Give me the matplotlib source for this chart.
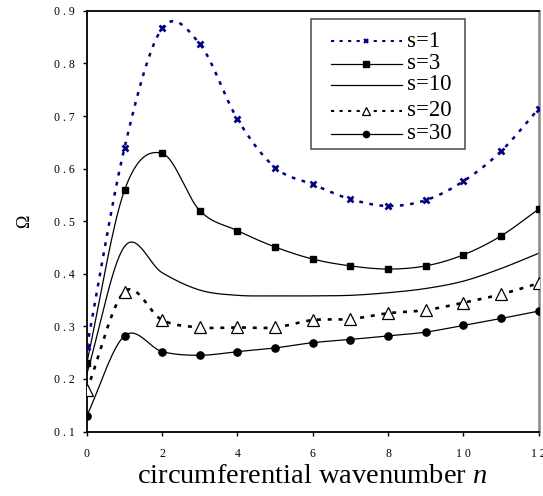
import numpy as np
import matplotlib
matplotlib.use("Agg")
import matplotlib.pyplot as plt
from matplotlib.patches import Rectangle
from matplotlib.lines import Line2D

n = [0, 1, 2, 3, 4, 5, 6, 7, 8, 9, 10, 11, 12]
s1 = [0.261, 0.640, 0.867, 0.837, 0.694, 0.602, 0.570, 0.542, 0.529, 0.540, 0.576, 0.633, 0.714]
s3 = [0.231, 0.559, 0.629, 0.520, 0.482, 0.451, 0.428, 0.415, 0.409, 0.415, 0.436, 0.472, 0.523]
s10 = [0.210, 0.452, 0.402, 0.369, 0.359, 0.358, 0.358, 0.359, 0.364, 0.372, 0.386, 0.410, 0.439]
s20 = [0.179, 0.366, 0.312, 0.298, 0.298, 0.298, 0.312, 0.314, 0.325, 0.331, 0.345, 0.361, 0.382]
s30 = [0.130, 0.282, 0.252, 0.245, 0.252, 0.259, 0.269, 0.275, 0.282, 0.289, 0.302, 0.315, 0.329]
labels = ["s=1", "s=3", "s=10", "s=20", "s=30"]
yticks = [0.1, 0.2, 0.3, 0.4, 0.5, 0.6, 0.7, 0.8, 0.9]
ytick_labels = ["0 . 1", "0 . 2", "0 . 3", "0 . 4", "0 . 5", "0 . 6", "0 . 7", "0 . 8", "0 . 9"]
xticks = [0, 2, 4, 6, 8, 10, 12]
xtick_labels = ["0", "2", "4", "6", "8", "1 0", "1 2"]


def smooth(x, y, k=20):
    """Catmull-Rom smoothing of the polyline (like a spreadsheet smoothed line)."""
    x = np.asarray(x, float)
    y = np.asarray(y, float)
    P = np.column_stack([x, y])
    P = np.vstack([2 * P[0] - P[1], P, 2 * P[-1] - P[-2]])
    out = []
    t = np.linspace(0, 1, k, endpoint=False)[:, None]
    for i in range(1, len(P) - 2):
        p0, p1, p2, p3 = P[i - 1], P[i], P[i + 1], P[i + 2]
        m1 = (p2 - p0) / 2
        m2 = (p3 - p1) / 2
        h00 = 2 * t**3 - 3 * t**2 + 1
        h10 = t**3 - 2 * t**2 + t
        h01 = -2 * t**3 + 3 * t**2
        h11 = t**3 - t**2
        out.append(h00 * p1 + h10 * m1 + h01 * p2 + h11 * m2)
    out.append(P[-2][None, :])
    C = np.vstack(out)
    return C[:, 0], C[:, 1]


plt.rcParams['font.family'] = ['Liberation Serif', 'DejaVu Serif']
plt.rcParams['mathtext.fontset'] = 'custom'
plt.rcParams['mathtext.rm'] = 'Liberation Serif'
plt.rcParams['mathtext.it'] = 'Liberation Serif:italic'

fig = plt.figure(figsize=(5.43, 4.96), dpi=100)
ax = fig.add_axes([0.160, 0.130, 0.832, 0.848])

navy = "#000080"
dot = (0, (1.5, 2.6))

styles = [
    dict(color=navy, ls=dot, lw=1.8, marker="x", ms=4.8, mew=1.9, mfc=navy, mec=navy),
    dict(color="black", ls="-", lw=0.9, marker="s", ms=4.6, mfc="black", mec="black", mew=1.0),
    dict(color="black", ls="-", lw=0.9, marker=None),
    dict(color="black", ls=dot, lw=1.9, marker="^", ms=8, mfc="white", mec="black", mew=0.9),
    dict(color="black", ls="-", lw=0.9, marker="o", ms=5.2, mfc="black", mec="black", mew=1.0),
]

for ys, st in zip([s1, s3, s10, s20, s30], styles):
    xs, yy = smooth(n, ys)
    ax.plot(xs, yy, color=st["color"], ls=st["ls"], lw=st["lw"], zorder=2)
    if st["marker"] is not None:
        ax.plot(n, ys, ls="none", marker=st["marker"], ms=st["ms"], mfc=st["mfc"],
                mec=st["mec"], mew=st["mew"], zorder=3)

ax.set_xlim(0, 12)
ax.set_ylim(0.1, 0.9)
ax.set_xticks(xticks)
ax.set_xticklabels(xtick_labels, fontsize=8.5)
ax.set_yticks(yticks)
ax.set_yticklabels(ytick_labels, fontsize=8.5)
ax.tick_params(direction="out", length=3, width=1.0)
ax.tick_params(axis="x", pad=9)
ax.tick_params(axis="y", pad=6)

for sp in ["left", "bottom", "top"]:
    ax.spines[sp].set_linewidth(1.3)
ax.spines["right"].set_color("#888888")
ax.spines["right"].set_linewidth(1.8)

ax.set_xlabel("circumferential wavenumber $\\mathit{n}$", fontsize=20.5, labelpad=3)
ax.set_ylabel("Ω", fontsize=13, labelpad=15)

# legend box drawn manually in axes fraction
bx0, bx1, by0, by1 = 0.497, 0.837, 0.671, 0.980
ax.add_patch(Rectangle((bx0, by0), bx1 - bx0, by1 - by0, transform=ax.transAxes,
                       fill=True, facecolor="white", edgecolor="#555555", lw=1.2, zorder=5))
leg_styles = [
    dict(color=navy, ls=dot, lw=1.5, marker="x", ms=3.5, mew=1.5, mfc=navy, mec=navy),
    dict(color="black", ls="-", lw=0.9, marker="s", ms=4.0, mfc="black", mec="black", mew=1.0),
    dict(color="black", ls="-", lw=0.9, marker=None),
    dict(color="black", ls=dot, lw=1.5, marker="^", ms=6, mfc="white", mec="black", mew=0.9),
    dict(color="black", ls="-", lw=0.9, marker="o", ms=4.5, mfc="black", mec="black", mew=1.0),
]
hx0, hx1 = 0.540, 0.697
tx = 0.708
row_y = [0.928, 0.874, 0.824, 0.763, 0.708]
for lab, st, yy in zip(labels, leg_styles, row_y):
    ax.add_line(Line2D([hx0, hx1], [yy, yy], transform=ax.transAxes, color=st["color"],
                       ls=st["ls"], lw=st["lw"], zorder=6))
    if st["marker"] is not None:
        ax.add_line(Line2D([(hx0 + hx1) / 2], [yy], transform=ax.transAxes, ls="none",
                           marker=st["marker"], ms=st["ms"], mfc=st["mfc"], mec=st["mec"],
                           mew=st["mew"], zorder=7))
    ax.text(tx, yy, lab, transform=ax.transAxes, fontsize=16.5, va="center", ha="left", zorder=7)

fig.savefig("out.png", dpi=100)
